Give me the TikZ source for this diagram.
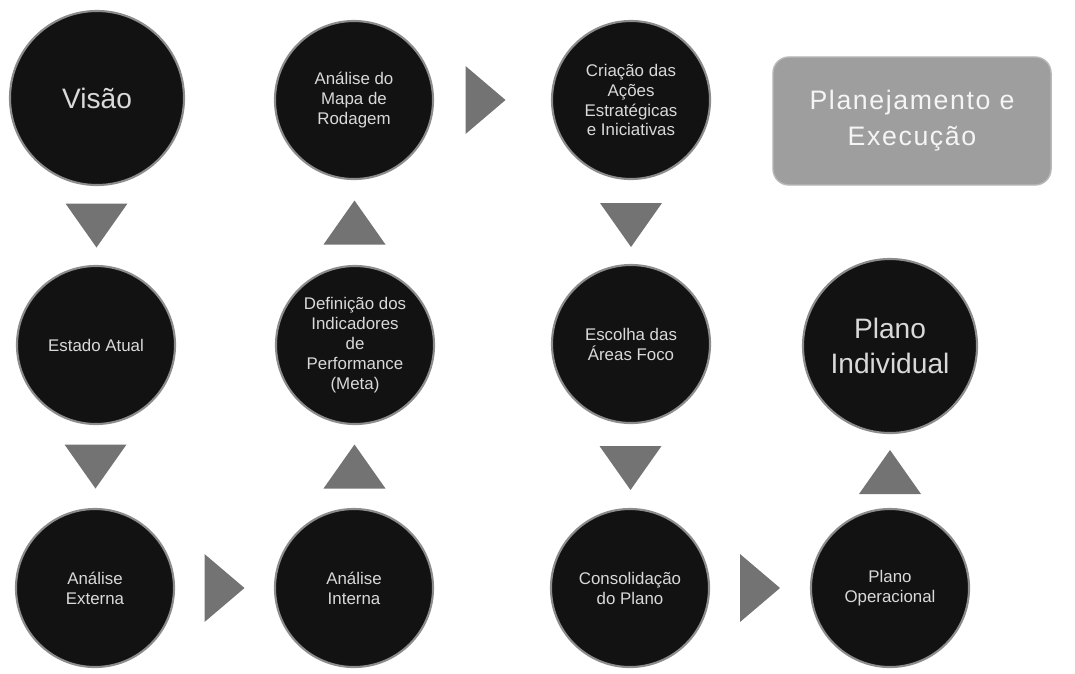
\documentclass[tikz,border=0pt]{standalone}
\usepackage{fontspec}
\setmainfont{Liberation Sans}
\newfontfamily\boxfont[LetterSpace=6]{Liberation Sans}
\usetikzlibrary{calc}
\tikzset{
    trifill/.style={fill=black!55},
    triv/.pic={\fill[trifill] (-31,-22) -- (31,-22) -- (0,22) -- cycle;},
    trih/.pic={\fill[trifill] (-20,-34) -- (20,0) -- (-20,34) -- cycle;}
}
\begin{document}
\begin{tikzpicture}[x=0.025cm, y=-0.025cm,
        stage/.style={shape=circle, fill=black!93, draw=black!45, line width=1.5pt, minimum size=3.95cm, inner sep=0pt, align=center, text=black!15, font=\fontsize{12}{14.2}\selectfont},
        bigstage/.style={stage, minimum size=4.35cm, font=\fontsize{20}{25}\selectfont},
        headbox/.style={shape=rectangle, fill=black!38, draw=black!28, line width=1pt, rounded corners=0.4cm, minimum width=6.95cm, minimum height=3.2cm, align=center, text=black!4, font=\boxfont\fontsize{19}{25.5}\selectfont}]
        \useasboundingbox (0,0) rectangle (1075,673);
        \node[name=vis, bigstage] at (97,98) {Visão};
        \node[name=est, stage] at (96,345) {Estado Atual};
        \node[name=ext, stage] at (95,588) {Análise\\Externa};
        \node[name=int, stage] at (354,588) {Análise\\Interna};
        \node[name=def, stage] at (355,345) {Definição dos\\Indicadores\\de\\Performance\\(Meta)};
        \node[name=map, stage] at (354,100) {Análise do\\Mapa de\\Rodagem};
        \node[name=cri, stage] at (631,100) {Criação das\\Ações\\Estratégicas\\e Iniciativas};
        \node[name=esc, stage] at (631,344) {Escolha das\\Áreas Foco};
        \node[name=con, stage] at (630,588) {Consolidação\\do Plano};
        \node[name=ope, stage] at (890,588) {Plano\\Operacional};
        \node[name=ind, bigstage] at (890,346) {Plano\\Individual};
        \node[name=head, headbox] at (912,121) {Planejamento e\\Execução};
        \pic at ($(vis)!0.5!(est)+(0,4)$) {triv};
        \pic at ($(est)!0.5!(ext)$) {triv};
        \pic at ($(ext)!0.5!(int)$) {trih};
        \pic[rotate=180] at ($(int)!0.5!(def)$) {triv};
        \pic[rotate=180] at ($(def)!0.5!(map)$) {triv};
        \pic at ($(map)!0.5!(cri)+(-7,0)$) {trih};
        \pic at ($(cri)!0.5!(esc)+(0,3)$) {triv};
        \pic at ($(esc)!0.5!(con)+(0,2)$) {triv};
        \pic at ($(con)!0.5!(ope)$) {trih};
        \pic[rotate=180] at ($(ope)!0.5!(ind)+(0,5)$) {triv};
\end{tikzpicture}
\end{document}
